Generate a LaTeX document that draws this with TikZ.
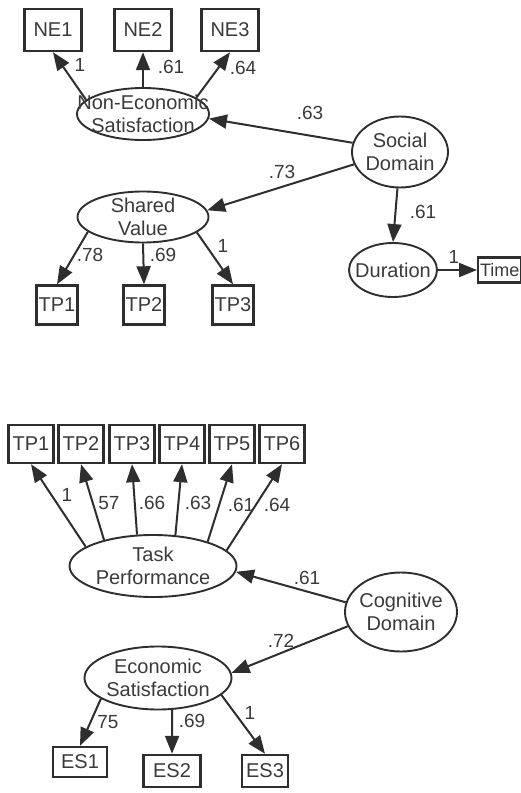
\documentclass[tikz,border=0pt]{standalone}
\usepackage{fontspec}
\setmainfont{Liberation Sans}
\usetikzlibrary{shapes.geometric,arrows.meta}
\definecolor{ln}{HTML}{2E2E2E}
\definecolor{tx}{HTML}{3A3A3A}
\begin{document}
\begin{tikzpicture}[x=0.5pt,y=-0.5pt,
  lat/.style={ellipse,draw=ln,line width=0.95pt,inner sep=0pt},
  lattext/.style={text=tx,font=\fontsize{10}{11.5}\selectfont,align=center,inner sep=0pt},
  obs/.style={rectangle,draw=ln,line width=1.2pt,inner sep=0pt,text=tx,font=\fontsize{10}{11}\selectfont},
  pth/.style={draw=ln,line width=1pt,-{Triangle[length=9pt,width=7pt]}},
  lbl/.style={text=tx,font=\fontsize{9.5}{10}\selectfont,inner sep=0pt}]
\useasboundingbox (0,0) rectangle (520,793);

% ---------- top model ----------
\node[obs,minimum width=28.5pt,minimum height=21pt] (NE1) at (53,30) {NE1};
\node[obs,minimum width=28.5pt,minimum height=21pt] (NE2) at (143,30) {NE2};
\node[obs,minimum width=28.5pt,minimum height=21pt] (NE3) at (230,30) {NE3};
\node[lat,minimum width=66pt,minimum height=26pt,label={[lattext]center:Non-Economic\\Satisfaction}] (nes) at (143,114) {};

\node[lat,minimum width=48pt,minimum height=35.5pt,label={[lattext]center:Social\\Domain}] (soc) at (400,152) {};
\node[lat,minimum width=65.5pt,minimum height=25.5pt,label={[lattext]center:Shared\\Value}] (sv) at (143,217) {};
\node[lat,minimum width=44pt,minimum height=27pt,label={[lattext]center:Duration}] (dur) at (393,270) {};
\node[obs,minimum width=21.5pt,minimum height=12.5pt,anchor=west,font=\fontsize{9}{10}\selectfont] (time) at (477,270) {Time};

\node[obs,minimum width=20.5pt,minimum height=19.5pt] (sTP1) at (57,305) {TP1};
\node[obs,minimum width=20.5pt,minimum height=19.5pt] (sTP2) at (144,305) {TP2};
\node[obs,minimum width=20.5pt,minimum height=19.5pt] (sTP3) at (233,305) {TP3};

\draw[pth] (nes.166) -- (NE1.south);
\draw[pth] (nes.north) -- (NE2.south);
\draw[pth] (nes.17) -- (NE3.south);
\draw[pth] (soc.169) -- (nes.-4);
\draw[pth] (soc.195) -- (sv.6);
\draw[pth] (soc.-94) -- (dur.north);
\draw[pth] (dur.east) -- (time.west);
\draw[pth] (sv.195) -- (sTP1.north);
\draw[pth] (sv.south) -- (sTP2.north);
\draw[pth] (sv.-16) -- (sTP3.north);

\node[lbl] (l1) at (80,65) {1};
\node[lbl] (l2) at (171,67) {.61};
\node[lbl] (l3) at (243,68) {.64};
\node[lbl] (l4) at (310,113) {.63};
\node[lbl] (l5) at (282,172) {.73};
\node[lbl] (l6) at (423,212) {.61};
\node[lbl] (l7) at (454,257) {1};
\node[lbl] (l8) at (90,255) {.78};
\node[lbl] (l9) at (163,255) {.69};
\node[lbl] (l10) at (223,246) {1};

% ---------- bottom model ----------
\node[obs,minimum width=22.5pt,minimum height=19pt] (bTP1) at (31,444) {TP1};
\node[obs,minimum width=22.5pt,minimum height=19pt] (bTP2) at (81,444) {TP2};
\node[obs,minimum width=22.5pt,minimum height=19pt] (bTP3) at (132,444) {TP3};
\node[obs,minimum width=22.5pt,minimum height=19pt] (bTP4) at (182,444) {TP4};
\node[obs,minimum width=22.5pt,minimum height=19pt] (bTP5) at (232,444) {TP5};
\node[obs,minimum width=22.5pt,minimum height=19pt] (bTP6) at (282,444) {TP6};

\node[lat,minimum width=83.5pt,minimum height=31pt,label={[lattext]center:Task\\Performance}] (tp) at (153,566) {};
\node[lat,minimum width=56pt,minimum height=39.5pt,label={[lattext]center:Cognitive\\Domain}] (cog) at (401,612) {};
\node[lat,minimum width=73.5pt,minimum height=31.5pt,label={[lattext]center:Economic\\Satisfaction}] (econ) at (158,678) {};

\node[obs,minimum width=27pt,minimum height=15pt] (ES1) at (80,762) {ES1};
\node[obs,minimum width=28.5pt,minimum height=16pt] (ES2) at (172,771) {ES2};
\node[obs,minimum width=23pt,minimum height=16pt] (ES3) at (265,771) {ES3};

\draw[pth] (tp.164) -- (bTP1.south);
\draw[pth] (tp.152) -- (bTP2.south);
\draw[pth] (tp.117) -- (bTP3.south);
\draw[pth] (tp.54) -- (bTP4.south);
\draw[pth] (tp.24) -- (bTP5.south);
\draw[pth] (tp.12) -- (bTP6.south);
\draw[pth] (cog.170) -- (tp.-4);
\draw[pth] (cog.195) -- (econ.4);
\draw[pth] (econ.200) -- (ES1.north);
\draw[pth] (econ.-66) -- (ES2.north);
\draw[pth] (econ.-15) -- (ES3.north);

\node[lbl] (m1) at (67,495) {1};
\node[lbl] (m2) at (109,503) {57};
\node[lbl] (m3) at (152,503) {.66};
\node[lbl] (m4) at (198,503) {.63};
\node[lbl] (m5) at (241,505) {.61};
\node[lbl] (m6) at (277,505) {.64};
\node[lbl] (m7) at (307,578) {.61};
\node[lbl] (m8) at (281,641) {.72};
\node[lbl] (m9) at (108,722) {75};
\node[lbl] (m10) at (192,721) {.69};
\node[lbl] (m11) at (250,713) {1};
\end{tikzpicture}
\end{document}
